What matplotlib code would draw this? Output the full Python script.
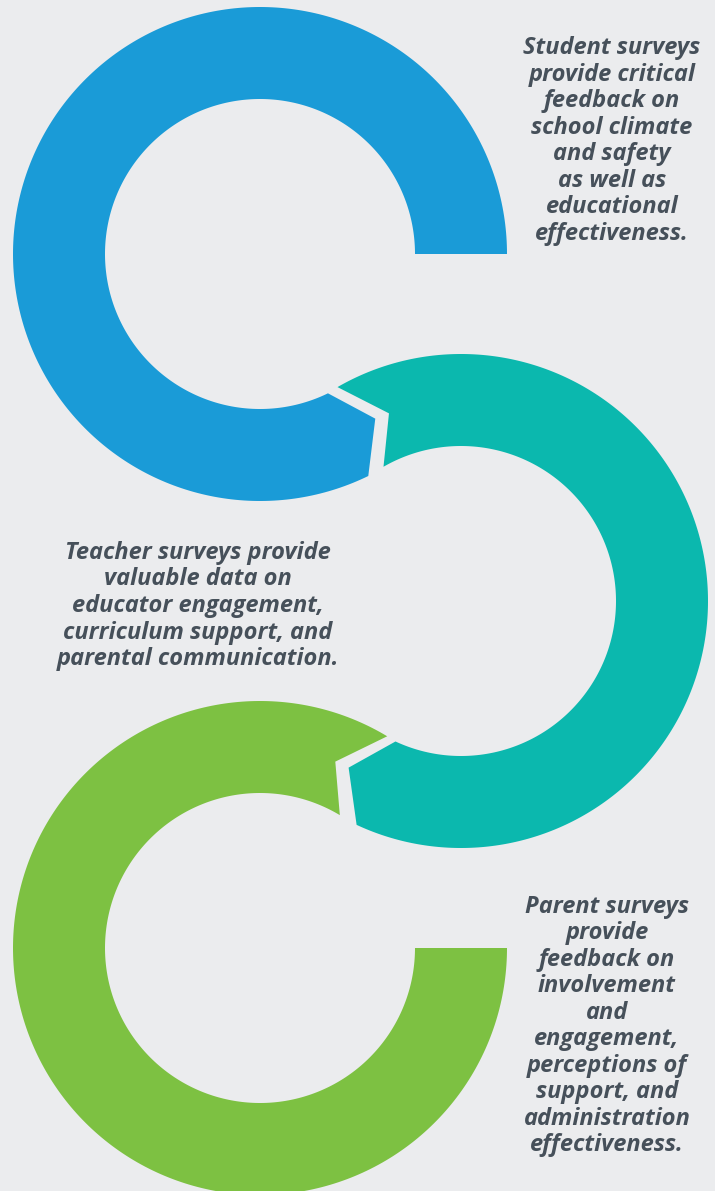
import numpy as np
import matplotlib.pyplot as plt
from matplotlib.patches import Polygon

# survey rings
names = ['Student', 'Teacher', 'Parent']
colors = ['#1A9BD7', '#0BB8AE', '#7DC142']
arc_start = [0, 120, 59]      # degrees
arc_end = [296, -115, 360]
has_head = [True, True, False]
has_tail = [False, True, True]

texts = [
    'Student surveys\nprovide critical\nfeedback on\nschool climate\nand safety\nas well as\neducational\neffectiveness.',
    'Teacher surveys provide\nvaluable data on\neducator engagement,\ncurriculum support, and\nparental communication.',
    'Parent surveys\nprovide\nfeedback on\ninvolvement\nand\nengagement,\nperceptions of\nsupport, and\nadministration\neffectiveness.',
]

centers = [(260, 254), (461, 601), (260, 948)]
text_pos = [(612, 141), (198, 606), (607, 1026)]
r_out, r_in = 247, 155
notch = 9

W, H = 715, 1191
fig = plt.figure(figsize=(W / 100, H / 100), dpi=100)
fig.patch.set_facecolor('#EBECEE')
ax = fig.add_axes([0, 0, 1, 1])
ax.set_facecolor('#EBECEE')
ax.set_xlim(0, W)
ax.set_ylim(H, 0)
ax.axis('off')


def ring(cx, cy, a0, a1, head, tail):
    d = np.sign(a1 - a0)
    t = np.radians(np.linspace(a0, a1, 300))
    pts = [(cx + r_out * np.cos(a), cy - r_out * np.sin(a)) for a in t]
    rm = (r_out + r_in) / 2
    if head:
        a = np.radians(a1 + d * notch)
        pts.append((cx + rm * np.cos(a), cy - rm * np.sin(a)))
    pts += [(cx + r_in * np.cos(a), cy - r_in * np.sin(a)) for a in t[::-1]]
    if tail:
        a = np.radians(a0 + d * notch)
        pts.append((cx + rm * np.cos(a), cy - rm * np.sin(a)))
    return pts


for i in range(len(names)):
    cx, cy = centers[i]
    pts = ring(cx, cy, arc_start[i], arc_end[i], has_head[i], has_tail[i])
    ax.add_patch(Polygon(pts, closed=True, facecolor=colors[i], edgecolor='none'))
    ax.text(text_pos[i][0], text_pos[i][1], texts[i], ha='center', va='center',
            fontsize=17, fontweight='bold', fontstyle='italic', family='Open Sans',
            color='#46505A', linespacing=1.14, multialignment='center')

fig.savefig('out.png', dpi=100, facecolor=fig.get_facecolor())
